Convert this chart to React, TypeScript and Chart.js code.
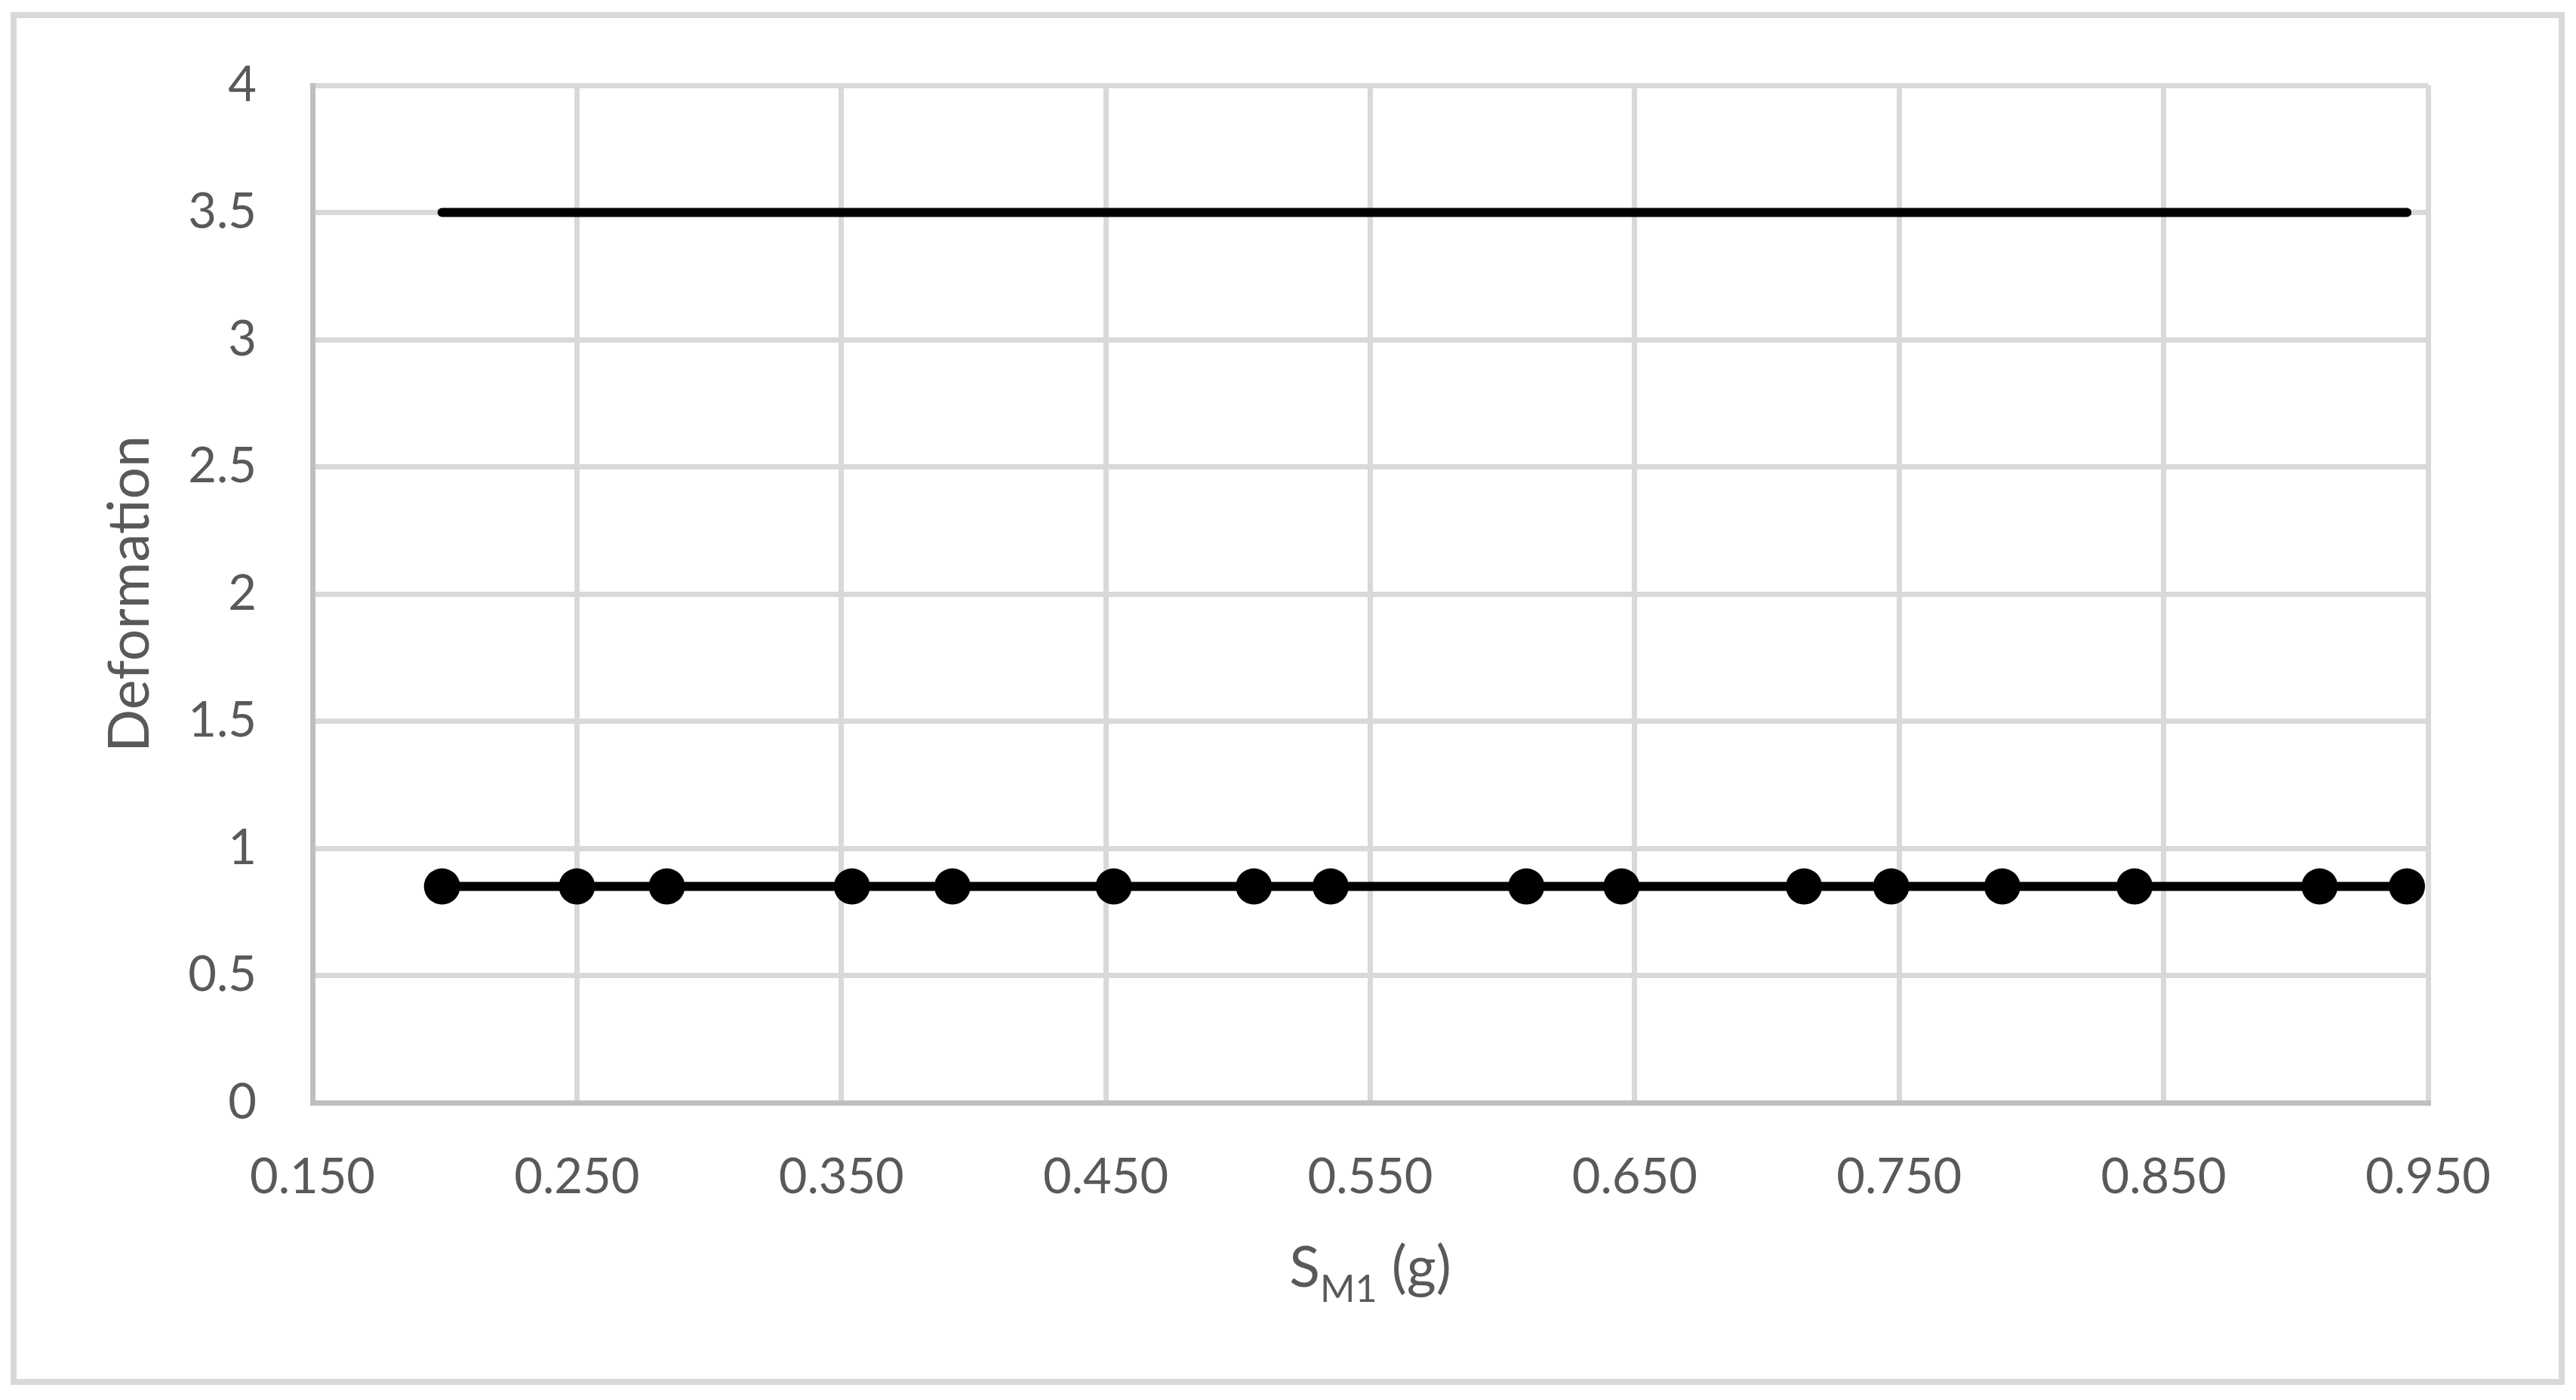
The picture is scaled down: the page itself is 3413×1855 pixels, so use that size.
import React, { useEffect, useRef } from "react";
import { Chart, registerables } from "chart.js";

Chart.register(...registerables);

// ---- data ----
const sm1Values = [0.199, 0.25, 0.284, 0.354, 0.392, 0.453, 0.506, 0.535, 0.609, 0.645, 0.714, 0.747, 0.789, 0.839, 0.909, 0.942];
const deformationValues = [0.85, 0.85, 0.85, 0.85, 0.85, 0.85, 0.85, 0.85, 0.85, 0.85, 0.85, 0.85, 0.85, 0.85, 0.85, 0.85];
const limitX = [0.199, 0.942];
const limitY = [3.5, 3.5];
const xTicks = [0.15, 0.25, 0.35, 0.45, 0.55, 0.65, 0.75, 0.85, 0.95];
const yTicks = [0, 0.5, 1, 1.5, 2, 2.5, 3, 3.5, 4];
const yTitle = "Deformation";
const xTitleMain = "S";
const xTitleSub = "M1";
const xTitleRest = " (g)";

const W = 3413;
const H = 1855;
const TEXT = "#595959";
const FONT = "Lato, 'Open Sans', sans-serif";

const framePlugin = {
  id: "frame",
  beforeDraw(chart: any) {
    const ctx = chart.ctx;
    ctx.save();
    ctx.fillStyle = "#ffffff";
    ctx.fillRect(0, 0, chart.width, chart.height);
    ctx.restore();
  },
  afterDraw(chart: any) {
    const ctx = chart.ctx;
    const area = chart.chartArea;
    ctx.save();
    // outer chart border
    ctx.strokeStyle = "#d9d9d9";
    ctx.lineWidth = 8;
    ctx.strokeRect(18, 20, 3394 - 18, 1831 - 20);
    // x axis title with subscript
    const mainFont = `75px ${FONT}`;
    const subFont = `50px ${FONT}`;
    ctx.fillStyle = TEXT;
    ctx.textBaseline = "alphabetic";
    ctx.textAlign = "left";
    ctx.font = mainFont;
    const wS = ctx.measureText(xTitleMain).width;
    const wR = ctx.measureText(xTitleRest).width;
    ctx.font = subFont;
    const wSub = ctx.measureText(xTitleSub).width;
    const total = wS + wSub + wR;
    const cx = (area.left + area.right) / 2;
    const baseY = area.bottom + 244;
    let x = cx - total / 2;
    ctx.font = mainFont;
    ctx.fillText(xTitleMain, x, baseY);
    x += wS;
    ctx.font = subFont;
    ctx.fillText(xTitleSub, x, baseY + 20);
    x += wSub;
    ctx.font = mainFont;
    ctx.fillText(xTitleRest, x, baseY);
    ctx.restore();
  },
};

export default function App() {
  const ref = useRef<HTMLCanvasElement | null>(null);

  useEffect(() => {
    document.body.style.margin = "0";
    const canvas = ref.current;
    if (!canvas) return;
    const chart = new Chart(canvas, {
      type: "scatter",
      data: {
        datasets: [
          {
            label: "Limit",
            data: limitX.map((x, i) => ({ x, y: limitY[i] })),
            showLine: true,
            borderColor: "#000000",
            backgroundColor: "#000000",
            borderWidth: 12,
            borderCapStyle: "round",
            pointRadius: 0,
            pointHoverRadius: 0,
          },
          {
            label: "Deformation",
            data: sm1Values.map((x, i) => ({ x, y: deformationValues[i] })),
            showLine: true,
            borderColor: "#000000",
            backgroundColor: "#000000",
            borderWidth: 12,
            pointRadius: 24,
            pointBorderWidth: 0,
            pointBackgroundColor: "#000000",
            pointHoverRadius: 24,
          },
        ],
      },
      options: {
        animation: false,
        responsive: false,
        devicePixelRatio: 1,
        layout: { padding: { left: 0, top: 112, right: W - 3217, bottom: 0 } },
        plugins: {
          legend: { display: false },
          tooltip: { enabled: false },
          title: { display: false },
        },
        scales: {
          x: {
            type: "linear",
            min: 0.15,
            max: 0.95,
            afterBuildTicks: (scale: any) => {
              scale.ticks = xTicks.map((v) => ({ value: v }));
            },
            afterFit: (scale: any) => {
              scale.height = 1855 - 1461;
            },
            grid: { color: "#d9d9d9", lineWidth: 7, drawTicks: false },
            border: { color: "#bfbfbf", width: 7 },
            ticks: {
              color: TEXT,
              font: { family: FONT, size: 65 },
              padding: 60,
              maxRotation: 0,
              autoSkip: false,
              callback: (v: any) => Number(v).toFixed(3),
            },
          },
          y: {
            type: "linear",
            min: 0,
            max: 4,
            afterBuildTicks: (scale: any) => {
              scale.ticks = yTicks.map((v) => ({ value: v }));
            },
            afterFit: (scale: any) => {
              scale.width = 414;
            },
            grid: { color: "#d9d9d9", lineWidth: 7, drawTicks: false },
            border: { color: "#bfbfbf", width: 7 },
            ticks: {
              color: TEXT,
              font: { family: FONT, size: 65 },
              padding: 74,
              autoSkip: false,
              callback: (v: any) => String(v),
            },
            title: {
              display: true,
              text: yTitle,
              color: TEXT,
              font: { family: FONT, size: 75 },
              padding: { top: 128, bottom: 0 },
            },
          },
        },
      },
      plugins: [framePlugin],
    });
    return () => chart.destroy();
  }, []);

  return (
    <div style={{ position: "absolute", left: 0, top: 0, width: W, height: H, background: "#fff" }}>
      <canvas ref={ref} width={W} height={H} style={{ width: W, height: H, display: "block" }} />
    </div>
  );
}
